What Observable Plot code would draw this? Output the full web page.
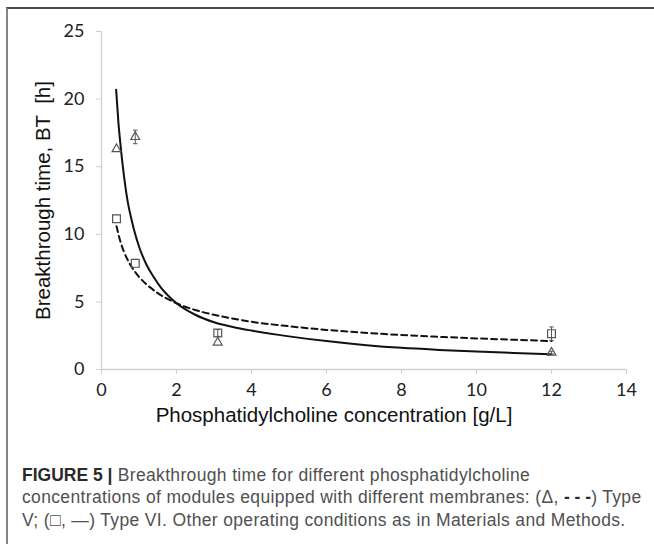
<!DOCTYPE html>
<html>
<head>
<meta charset="utf-8">
<script src="https://cdn.jsdelivr.net/npm/d3@7"></script>
<script src="https://cdn.jsdelivr.net/npm/@observablehq/plot@0.6"></script>
<style>
  html, body { margin: 0; padding: 0; background: #fff; overflow: hidden; }
  body { width: 654px; height: 544px; position: relative; }
  #frame { position: absolute; left: 6px; top: 7px; width: 700px; height: 600px;
           border-left: 2px solid #858585; border-top: 2px solid #4a4a4a; }
  #chart { position: absolute; left: 0; top: 0; }
  #caption { position: absolute; left: 22px; top: 464px; width: 640px;
             font-family: "Liberation Sans", Arial, sans-serif; font-size: 17.5px;
             letter-spacing: 0.35px; line-height: 22.3px; color: #505050; white-space: nowrap; }
  #caption b { color: #2a2a2a; letter-spacing: 0; }
</style>
</head>
<body>
<div id="frame"></div>
<div id="chart"></div>
<div id="caption"><b>FIGURE 5 |</b> Breakthrough time for different phosphatidylcholine<br>concentrations of modules equipped with different membranes: (Δ, <b>- - -</b>) Type<br>V; (□, —) Type VI. Other operating conditions as in Materials and Methods.</div>
<script>
// Tick values
const xTicks = [0, 2, 4, 6, 8, 10, 12, 14];
const yTicks = [0, 5, 10, 15, 20, 25];

// Measured points: triangles
const triX = [0.4, 0.9, 3.1, 12];
const triY = [16.3, 17.2, 2.0, 1.25];
const triErr = [0, 0.5, 0, 0.1];

// Measured points: squares
const sqX = [0.4, 0.9, 3.1, 12];
const sqY = [11.15, 7.85, 2.7, 2.65];
const sqErr = [0, 0, 0.25, 0.5];

// Solid fitted curve
const solidX = [0.39, 0.45, 0.5, 0.6, 0.7, 0.8, 0.9, 1, 1.2, 1.4, 1.6, 1.8, 2, 2.5, 3, 3.5, 4, 5, 6, 7, 8, 9, 10, 11, 12];
const solidY = [20.7, 18.3, 16.8, 14.3, 12.4, 11.1, 10.0, 9.1, 7.75, 6.8, 6.0, 5.4, 4.9, 4.05, 3.5, 3.15, 2.88, 2.45, 2.1, 1.82, 1.6, 1.45, 1.33, 1.22, 1.12];

// Dashed fitted curve
const dashX = [0.4, 0.5, 0.6, 0.7, 0.8, 0.9, 1, 1.2, 1.5, 2, 2.5, 3, 4, 5, 6, 7, 8, 9, 10, 11, 12];
const dashY = [10.6, 9.5, 8.7, 8.1, 7.6, 7.2, 6.85, 6.3, 5.65, 4.9, 4.4, 4.05, 3.53, 3.2, 2.93, 2.72, 2.55, 2.42, 2.3, 2.2, 2.1];

const tri = triX.map((x, i) => ({x, y: triY[i], e: triErr[i]}));
const sq = sqX.map((x, i) => ({x, y: sqY[i], e: sqErr[i]}));
const solid = solidX.map((x, i) => ({x, y: solidY[i]}));
const dash = dashX.map((x, i) => ({x, y: dashY[i]}));
const errs = [...tri, ...sq].filter(d => d.e > 0);

const plot = Plot.plot({
  width: 654,
  height: 440,
  marginLeft: 101,
  marginRight: 28,
  marginTop: 31,
  marginBottom: 71,
  x: {domain: [0, 14]},
  y: {domain: [0, 25]},
  style: {fontFamily: "Lato, 'Open Sans', sans-serif", fontSize: "18px", color: "#222", background: "transparent"},
  marks: [
    Plot.ruleY([0], {stroke: "#cfcfcf", strokeWidth: 1.3}),
    Plot.ruleX([0], {stroke: "#cfcfcf", strokeWidth: 1.3}),
    Plot.axisX({ticks: xTicks, tickSize: 5, tickPadding: 9, stroke: "#cfcfcf", fill: "#222", label: null, fontSize: 18}),
    Plot.axisY({ticks: yTicks, tickSize: 5, tickPadding: 12, stroke: "#cfcfcf", fill: "#222", label: null, fontSize: 18}),
    Plot.text(["Phosphatidylcholine concentration [g/L]"], {frameAnchor: "bottom", dx: -30, dy: 52, fontFamily: "'Liberation Sans', Arial, sans-serif", fontSize: 20.5, fill: "#111"}),
    Plot.text(["Breakthrough time, BT  [h]"], {frameAnchor: "left", textAnchor: "middle", dx: -58, rotate: -90, fontFamily: "'Liberation Sans', Arial, sans-serif", fontSize: 20.5, fill: "#111"}),
    Plot.line(dash, {x: "x", y: "y", stroke: "#111", strokeWidth: 2, strokeDasharray: "6,4", curve: "monotone-x"}),
    Plot.line(solid, {x: "x", y: "y", stroke: "#111", strokeWidth: 2, curve: "monotone-x"}),
    Plot.link(errs, {x1: "x", x2: "x", y1: d => d.y - d.e, y2: d => d.y + d.e, stroke: "#555", strokeWidth: 1}),
    Plot.link(errs, {x1: d => d.x - 0.06, x2: d => d.x + 0.06, y1: d => d.y - d.e, y2: d => d.y - d.e, stroke: "#555", strokeWidth: 1}),
    Plot.link(errs, {x1: d => d.x - 0.06, x2: d => d.x + 0.06, y1: d => d.y + d.e, y2: d => d.y + d.e, stroke: "#555", strokeWidth: 1}),
    Plot.dot(tri, {x: "x", y: "y", symbol: "triangle", r: 3.3, stroke: "#555", strokeWidth: 1.2, fill: "none"}),
    Plot.dot(sq, {x: "x", y: "y", symbol: "square", r: 4.4, stroke: "#555", strokeWidth: 1.2, fill: "none"})
  ]
});
document.getElementById("chart").appendChild(plot);
</script>
</body>
</html>
